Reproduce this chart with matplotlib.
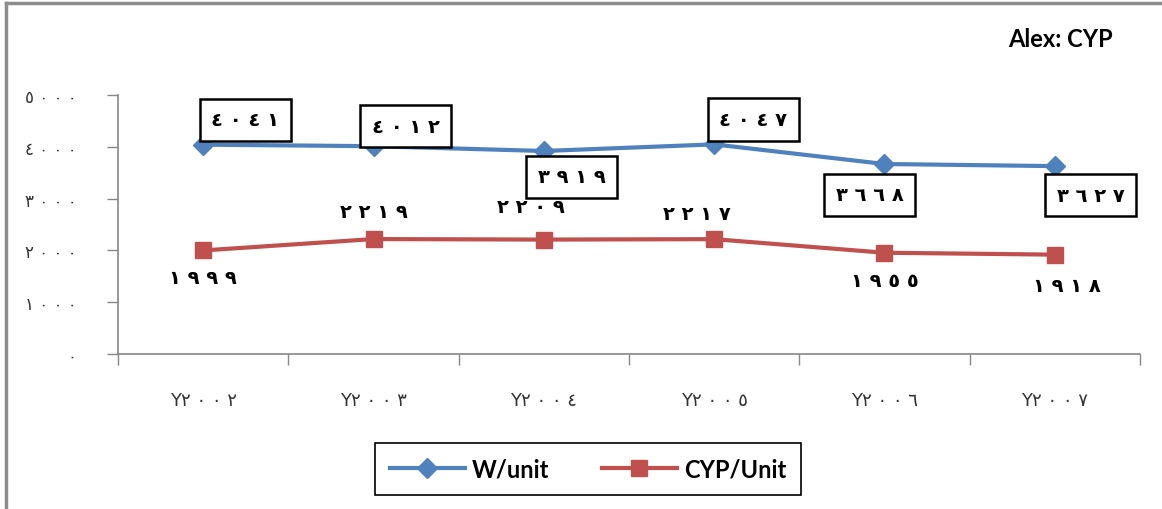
"""Alex: CYP - W/unit vs CYP/Unit by year."""

import matplotlib.pyplot as plt
from matplotlib.lines import Line2D
import numpy as np

ARABIC = str.maketrans("0123456789", "٠١٢٣٤٥٦٧٨٩")


def ar(n, sep=" "):
    """Arabic-Indic digits, spaced out."""
    return sep.join(str(n).translate(ARABIC))


years = ["2002", "2003", "2004", "2005", "2006", "2007"]
w_unit = [4041, 4012, 3919, 4047, 3668, 3627]
cyp_unit = [1999, 2219, 2209, 2217, 1955, 1918]
y_ticks = [0, 1000, 2000, 3000, 4000, 5000]

# label offsets in pixels (box labels for W/unit, plain for CYP/Unit)
w_offsets = [(42, 25), (32, 20), (28, -26), (39, 25), (-15, -31), (36, -29)]
cyp_offsets = [(0, -27), (0, 28), (-13, 33), (-17, 26), (0, -28), (12, -31)]

BLUE = "#4F81BD"
RED = "#C0504D"
AXIS = "#868686"

fig = plt.figure(figsize=(11.62, 5.10), dpi=100)
ax = fig.add_axes([118 / 1162, 1 - 355 / 510, (1140 - 118) / 1162, (355 - 96) / 510])

x = np.arange(len(years))
ax.plot(x, w_unit, color=BLUE, lw=3, marker="D", ms=10, label="W/unit", zorder=3)
ax.plot(x, cyp_unit, color=RED, lw=3, marker="s", ms=12, label="CYP/Unit", zorder=3)

for xi, v, (dx, dy) in zip(x, w_unit, w_offsets):
    ax.annotate(ar(v), (xi, v), xytext=(dx, dy), textcoords="offset pixels",
                ha="center", va="center", fontsize=14, fontweight="bold",
                family="DejaVu Sans",
                bbox=dict(boxstyle="square,pad=0.6", fc="white", ec="black", lw=1.8),
                zorder=4)

for xi, v, (dx, dy) in zip(x, cyp_unit, cyp_offsets):
    ax.annotate(ar(v), (xi, v), xytext=(dx, dy), textcoords="offset pixels",
                ha="center", va="center", fontsize=14, fontweight="bold",
                family="DejaVu Sans", zorder=4)

ax.set_xlim(-0.5, len(years) - 0.5)
ax.set_ylim(0, 5000)
ax.set_yticks(y_ticks)
ax.set_yticklabels([ar(t) for t in y_ticks], color="#333333", fontsize=12)

ax.set_xticks(x)
ax.set_xticklabels(["Y" + ar(y) for y in years], color="#333333", fontsize=13)
ax.set_xticks(np.arange(len(years) + 1) - 0.5, minor=True)
ax.tick_params(axis="x", which="major", length=0, pad=27)
ax.tick_params(axis="x", which="minor", length=8, color=AXIS, width=1)
ax.tick_params(axis="y", length=8, color=AXIS, width=1, pad=22)

for side in ("top", "right"):
    ax.spines[side].set_visible(False)
for side in ("left", "bottom"):
    ax.spines[side].set_color(AXIS)
    ax.spines[side].set_linewidth(1.2)

fig.text(1060 / 1162, 1 - 40 / 510, "Alex: CYP", ha="center", va="center",
         fontsize=17, fontweight="bold", family="Lato")

leg = fig.legend(loc="center", bbox_to_anchor=(588 / 1162, 1 - 470 / 510),
                 ncol=2, fancybox=False, framealpha=1, handlelength=3.2,
                 columnspacing=2.2, borderpad=0.6, handletextpad=0.3,
                 prop=dict(family="Lato", weight="bold", size=17))
leg.get_frame().set_edgecolor("black")
leg.get_frame().set_linewidth(1.2)

# chart-area border, left and top edges
fig.add_artist(Line2D([6 / 1162, 6 / 1162], [0, 1 - 4 / 510], transform=fig.transFigure,
                      color="#8c8c8c", lw=2.5))
fig.add_artist(Line2D([6 / 1162, 1], [1 - 4 / 510, 1 - 4 / 510], transform=fig.transFigure,
                      color="#8c8c8c", lw=2.5))

fig.savefig("out.png", dpi=100)
